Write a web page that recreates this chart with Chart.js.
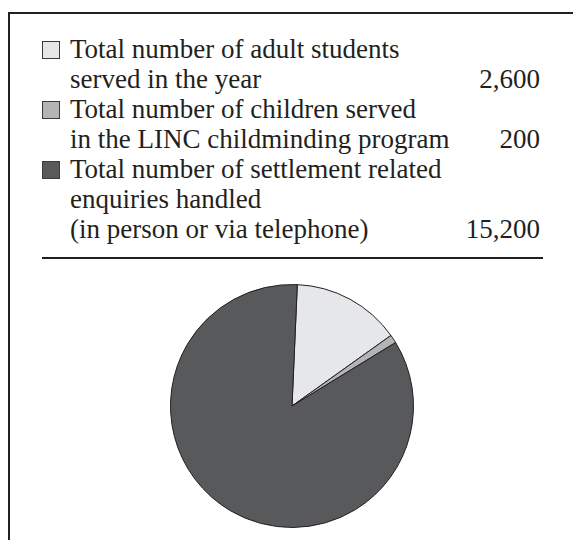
<!DOCTYPE html>
<html>
<head>
<meta charset="utf-8">
<script src="https://cdn.jsdelivr.net/npm/chart.js@4/dist/chart.umd.min.js"></script>
<style>
  html, body { margin: 0; padding: 0; background: #fff; }
  body { width: 573px; height: 540px; position: relative; overflow: hidden;
         font-family: "Liberation Serif", "Times New Roman", serif; color: #231f20; }
  #frame { position: absolute; left: 8px; top: 12px; width: 600px; height: 600px;
           border-left: 2px solid #231f20; border-top: 2px solid #231f20; box-sizing: border-box; }
  #legend { position: absolute; left: 0; top: 0; width: 573px; }
  .line { position: absolute; left: 70px; width: 470px; height: 30px; line-height: 30px;
          font-size: 27px; white-space: nowrap; }
  .val { position: absolute; right: 0; top: 0; }
  .box { position: absolute; left: 42px; width: 18px; height: 18px; box-sizing: border-box;
         border: 1px solid #3a3a3a; }
  #sep { position: absolute; left: 42px; top: 257px; width: 501px; height: 2px; background: #231f20; }
  #pieWrap { position: absolute; left: 162px; top: 276px; width: 260px; height: 260px; }
</style>
</head>
<body>
<div id="frame"></div>
<div id="legend"></div>
<div id="sep"></div>
<div id="pieWrap"><canvas id="c"></canvas></div>
<script>
// ---- data ----
const categories = [
  ["Total number of adult students", "served in the year"],
  ["Total number of children served", "in the LINC childminding program"],
  ["Total number of settlement related", "enquiries handled", "(in person or via telephone)"]
];
const values = [2600, 200, 15200];
const colors = ["#e6e7e8", "#b2b4b5", "#58595b"];

const chart = new Chart(document.getElementById("c"), {
  type: "pie",
  data: {
    labels: categories,
    datasets: [{
      data: values,
      backgroundColor: colors,
      borderColor: "#231f20",
      borderWidth: 1
    }]
  },
  options: {
    responsive: true,
    maintainAspectRatio: false,
    animation: false,
    rotation: 2.5,
    layout: { padding: 8 },
    plugins: { legend: { display: false }, tooltip: { enabled: false } }
  }
});

// ---- legend built from the chart's data ----
const legend = document.getElementById("legend");
const LINE_H = 30, FIRST_TOP = 34;
let lineIdx = 0;
chart.data.labels.forEach((lines, i) => {
  const top0 = FIRST_TOP + lineIdx * LINE_H;
  const box = document.createElement("div");
  box.className = "box";
  box.style.top = (top0 + 7) + "px";
  box.style.background = chart.data.datasets[0].backgroundColor[i];
  legend.appendChild(box);
  lines.forEach((t, k) => {
    const d = document.createElement("div");
    d.className = "line";
    d.style.top = (top0 + k * LINE_H) + "px";
    d.textContent = t;
    if (k === lines.length - 1) {
      const v = document.createElement("span");
      v.className = "val";
      v.textContent = chart.data.datasets[0].data[i].toLocaleString("en-US");
      d.appendChild(v);
    }
    legend.appendChild(d);
  });
  lineIdx += lines.length;
});
</script>
</body>
</html>
